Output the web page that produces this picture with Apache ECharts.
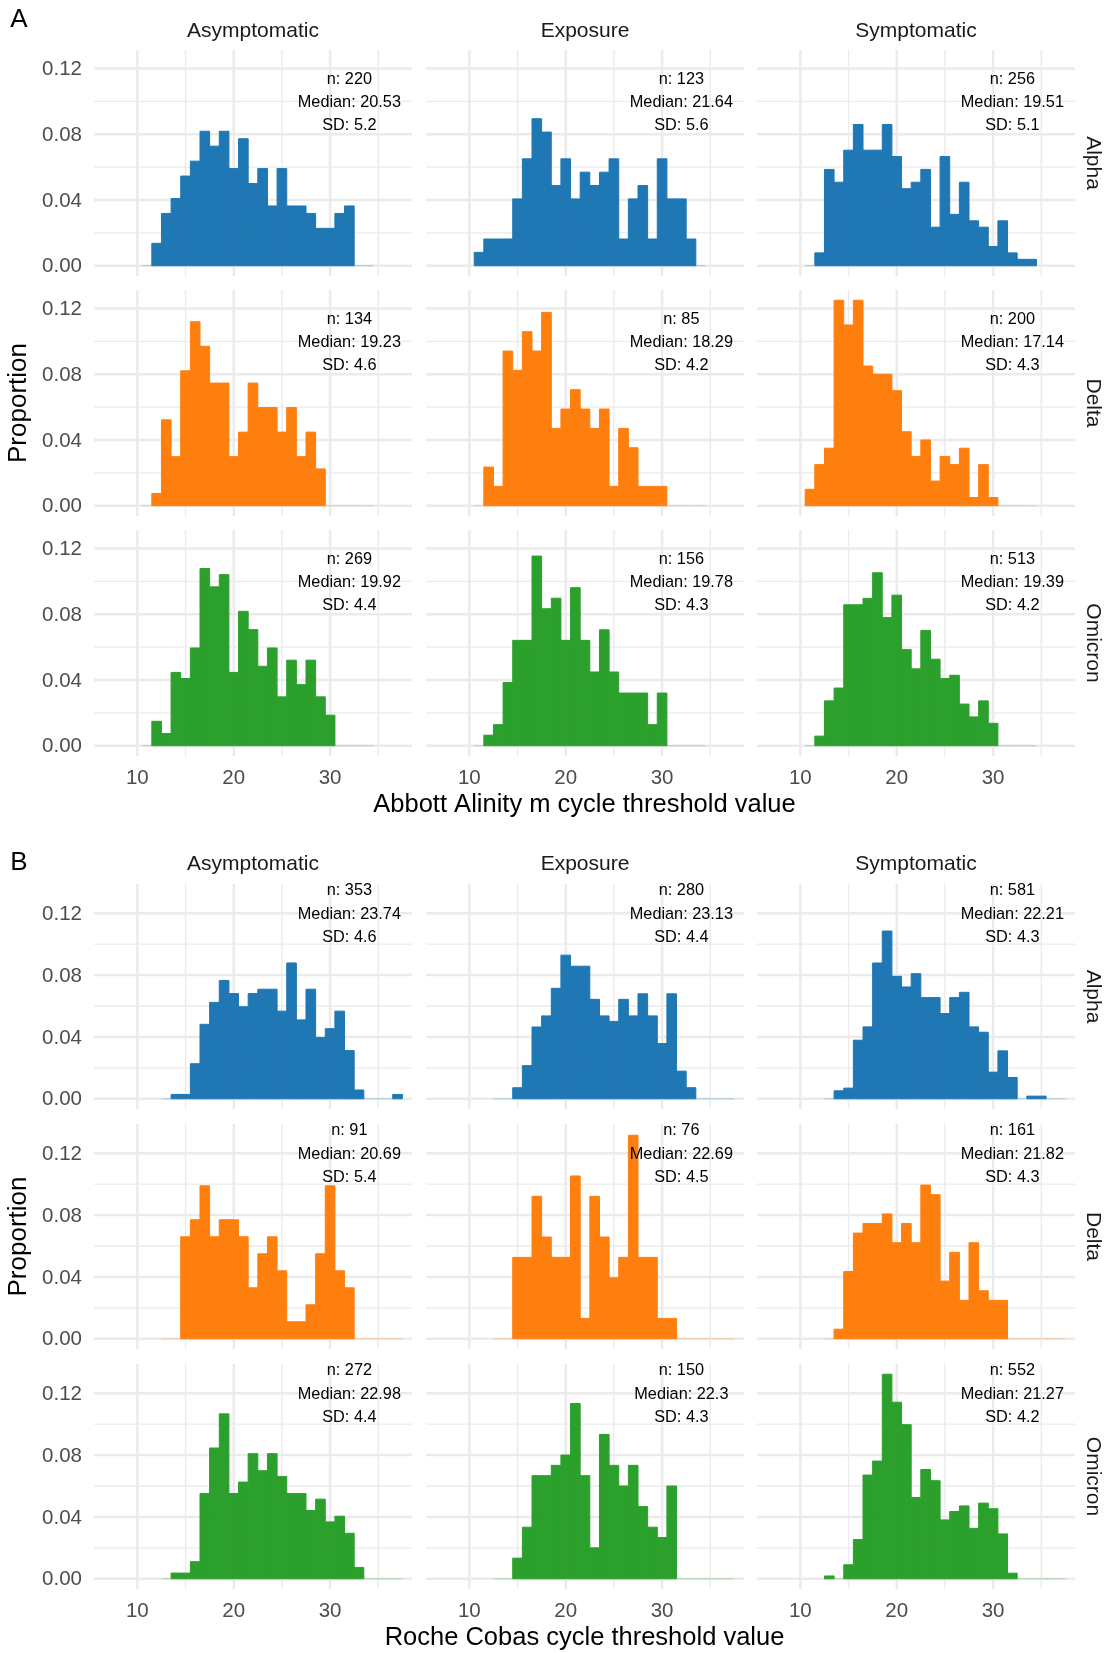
<!DOCTYPE html>
<html><head><meta charset="utf-8">
<script src="https://cdn.jsdelivr.net/npm/echarts@6/dist/echarts.min.js"></script>
<style>html,body{margin:0;padding:0;background:#fff}#c{width:1107px;height:1653px}</style>
</head><body><div id="c"></div>
<script>
// ---------- data ----------
const categories = ['Asymptomatic', 'Exposure', 'Symptomatic'];
const variants = ['Alpha', 'Delta', 'Omicron'];
const variantColors = ['#1F77B4', '#FF7F0E', '#2CA02C'];
const xTitles = ['Abbott Alinity m cycle threshold value', 'Roche Cobas cycle threshold value'];
const panelTags = ['A', 'B'];
const xTickValues = [10, 20, 30];
const xMinorValues = [15, 25, 35];
const yTickValues = [0, 0.04, 0.08, 0.12];
const yTickLabels = ['0.00', '0.04', '0.08', '0.12'];
const yMinorValues = [0.02, 0.06, 0.10];

// bin centres (bin width 1)
const abbottBins = [11,12,13,14,15,16,17,18,19,20,21,22,23,24,25,26,27,28,29,30,31,32,33,34];
const rocheBins = [13,14,15,16,17,18,19,20,21,22,23,24,25,26,27,28,29,30,31,32,33,34,35,36,37];

// counts per bin (Abbott)
const abbottAlphaAsymptomatic = [0,3,7,9,12,14,18,16,18,13,17,11,13,8,13,8,8,7,5,5,7,8,0,0];
const abbottAlphaExposure     = [1,2,2,2,5,8,11,10,6,8,5,7,6,7,8,2,5,6,2,8,5,5,2,0];
const abbottAlphaSymptomatic  = [0,2,15,13,18,22,18,18,22,17,12,13,15,6,17,8,13,7,6,3,7,2,1,1];
const abbottDeltaAsymptomatic = [0,1,7,4,11,15,13,10,10,4,6,10,8,8,6,8,4,6,3,0,0,0,0,0];
const abbottDeltaExposure     = [0,2,1,8,7,9,8,10,4,5,6,5,4,5,1,4,3,1,1,1,0,0,0,0];
const abbottDeltaSymptomatic  = [2,5,7,25,22,25,17,16,16,14,9,6,8,3,6,5,7,1,5,1,0,0,0,0];
const abbottOmicronAsymptomatic = [0,4,2,12,11,16,29,26,28,12,22,19,13,16,8,14,10,14,8,5,0,0,0,0];
const abbottOmicronExposure     = [0,1,2,6,10,10,18,13,14,10,15,10,7,11,7,5,5,5,2,5,0,0,0,0];
const abbottOmicronSymptomatic  = [0,3,14,18,44,44,46,54,40,47,30,24,36,27,21,22,13,9,14,7,0,0,0,0];
const abbottN = [[220,123,256],[134,85,200],[269,156,513]];
const abbottMedian = [['20.53','21.64','19.51'],['19.23','18.29','17.14'],['19.92','19.78','19.39']];
const abbottSD = [['5.2','5.6','5.1'],['4.6','4.2','4.3'],['4.4','4.3','4.2']];

// counts per bin (Roche)
const rocheAlphaAsymptomatic = [0,1,1,8,17,22,27,24,21,24,25,25,20,31,18,25,14,16,20,11,2,0,0,0,1];
const rocheAlphaExposure     = [0,0,2,6,13,15,20,26,24,24,18,15,14,18,15,19,15,10,19,5,2,0,0,0,0];
const rocheAlphaSymptomatic  = [0,3,4,22,27,51,63,46,42,47,38,38,32,38,40,27,25,10,18,8,0,1,1,0,0];
const rocheDeltaAsymptomatic = [0,0,6,7,9,6,7,7,6,3,5,6,4,1,1,2,5,9,4,3,0,0,0,0,0];
const rocheDeltaExposure     = [0,0,4,4,7,5,4,4,8,1,7,5,3,4,10,4,4,1,1,0,0,0,0,0,0];
const rocheDeltaSymptomatic  = [0,1,7,11,12,12,13,10,12,10,16,15,6,9,4,10,5,4,4,0,0,0,0,0,0];
const rocheOmicronAsymptomatic = [0,1,1,3,15,23,29,15,17,22,19,22,18,15,15,12,14,10,11,8,2,0,0,0,0];
const rocheOmicronExposure     = [0,0,2,5,10,10,11,12,17,10,3,14,11,9,11,7,5,4,9,0,0,0,0,0,0];
const rocheOmicronSymptomatic  = [1,0,5,14,37,42,73,63,55,29,39,35,21,24,26,18,27,25,16,2,0,0,0,0,0];
const rocheN = [[353,280,581],[91,76,161],[272,150,552]];
const rocheMedian = [['23.74','23.13','22.21'],['20.69','22.69','21.82'],['22.98','22.3','21.27']];
const rocheSD = [['4.6','4.4','4.3'],['5.4','4.5','4.3'],['4.4','4.3','4.2']];

// ---------- layout ----------
const FONT = '"Liberation Sans", Arial, Helvetica, sans-serif';
const X_MIN = 5.5, X_MAX = 38.5;
const layout = {
  colLeft: [94, 426, 757], panelW: 318,
  rowTop: [[50, 290, 530], [884, 1124, 1364]], panelH: [226, 225],
  tagY: [20, 863], stripY: [31.5, 864.5], xTitleY: [805, 1638], yTitleY: [403, 1236.5],
  annY: [0.1142, 0.1351]
};

const plots = [
  { bins: abbottBins, n: abbottN, med: abbottMedian, sd: abbottSD,
    counts: [[abbottAlphaAsymptomatic, abbottAlphaExposure, abbottAlphaSymptomatic],
             [abbottDeltaAsymptomatic, abbottDeltaExposure, abbottDeltaSymptomatic],
             [abbottOmicronAsymptomatic, abbottOmicronExposure, abbottOmicronSymptomatic]] },
  { bins: rocheBins, n: rocheN, med: rocheMedian, sd: rocheSD,
    counts: [[rocheAlphaAsymptomatic, rocheAlphaExposure, rocheAlphaSymptomatic],
             [rocheDeltaAsymptomatic, rocheDeltaExposure, rocheDeltaSymptomatic],
             [rocheOmicronAsymptomatic, rocheOmicronExposure, rocheOmicronSymptomatic]] }
];

const grids = [], xAxes = [], yAxes = [], series = [], graphics = [];

plots.forEach((plot, p) => {
  let ymax = 0;
  plot.counts.forEach((row, r) => row.forEach((cnt, c) => cnt.forEach(v => { ymax = Math.max(ymax, v / plot.n[r][c]); })));
  const lo = -0.05 * ymax, hi = 1.05 * ymax;

  for (let r = 0; r < 3; r++) {
    for (let c = 0; c < 3; c++) {
      const g = grids.length;
      grids.push({ left: layout.colLeft[c], top: layout.rowTop[p][r], width: layout.panelW, height: layout.panelH[p] });
      xAxes.push({ type: 'value', gridIndex: g, min: X_MIN, max: X_MAX, show: false });
      yAxes.push({ type: 'value', gridIndex: g, min: lo, max: hi, show: false });

      // grid lines
      const gl = [];
      xTickValues.forEach(v => gl.push([v, 0, 1]));
      xMinorValues.forEach(v => gl.push([v, 0, 0]));
      yTickValues.forEach(v => gl.push([v, 1, 1]));
      yMinorValues.forEach(v => gl.push([v, 1, 0]));
      series.push({
        type: 'custom', xAxisIndex: g, yAxisIndex: g, silent: true, z: 1, data: gl,
        renderItem: (params, api) => {
          const v = api.value(0), o = api.value(1), m = api.value(2);
          let a, b;
          if (o === 0) { a = api.coord([v, lo]); b = api.coord([v, hi]); }
          else { a = api.coord([X_MIN, v]); b = api.coord([X_MAX, v]); }
          return { type: 'line', shape: { x1: a[0], y1: a[1], x2: b[0], y2: b[1] },
                   style: { stroke: '#EBEBEB', lineWidth: m ? 2.5 : 1.4 } };
        }
      });

      // histogram bars
      const n = plot.n[r][c];
      const color = variantColors[r];
      const cnt = plot.counts[r][c];
      series.push({
        type: 'custom', xAxisIndex: g, yAxisIndex: g, silent: true, z: 2,
        data: plot.bins.map((b, i) => [b, cnt[i] / n]),
        renderItem: (params, api) => {
          const x = api.value(0), y = api.value(1);
          if (y === 0) {
            const a = api.coord([x - 0.5, 0]), b = api.coord([x + 0.5, 0]);
            return { type: 'line', shape: { x1: a[0], y1: a[1], x2: b[0], y2: b[1] },
                     style: { stroke: color, opacity: 0.3, lineWidth: 1 } };
          }
          const tl = api.coord([x - 0.5, y]), br = api.coord([x + 0.5, 0]);
          return { type: 'rect', shape: { x: tl[0], y: tl[1], width: br[0] - tl[0], height: br[1] - tl[1] },
                   style: { fill: color, stroke: color, lineWidth: 1 } };
        }
      });

      // annotation
      const lines = ['n: ' + n, 'Median: ' + plot.med[r][c], 'SD: ' + plot.sd[r][c]];
      const annY = layout.annY[p];
      series.push({
        type: 'custom', xAxisIndex: g, yAxisIndex: g, silent: true, z: 3, data: [[32, annY]],
        renderItem: (params, api) => {
          const pt = api.coord([api.value(0), api.value(1)]);
          return { type: 'group', children: lines.map((t, i) => ({
            type: 'text', style: { text: t, x: pt[0], y: pt[1] + 1 + i * 23.2, align: 'center', verticalAlign: 'middle',
                                   fontSize: 16.3, fontFamily: FONT, fill: '#000' } })) };
        }
      });

      // x tick labels
      if (r === 2) {
        series.push({
          type: 'custom', xAxisIndex: g, yAxisIndex: g, silent: true, z: 3, data: xTickValues.map(v => [v]),
          renderItem: (params, api) => {
            const pt = api.coord([api.value(0), lo]);
            return { type: 'text', style: { text: String(api.value(0)), x: pt[0], y: pt[1] + 22, align: 'center',
                     verticalAlign: 'middle', fontSize: 20.5, fontFamily: FONT, fill: '#4D4D4D' } };
          }
        });
      }
      // y tick labels
      if (c === 0) {
        series.push({
          type: 'custom', xAxisIndex: g, yAxisIndex: g, silent: true, z: 3, data: yTickValues.map((v, i) => [v, i]),
          renderItem: (params, api) => {
            const pt = api.coord([X_MIN, api.value(0)]);
            return { type: 'text', style: { text: yTickLabels[api.value(1)], x: pt[0] - 12, y: pt[1] + 1, align: 'right',
                     verticalAlign: 'middle', fontSize: 20.5, fontFamily: FONT, fill: '#4D4D4D' } };
          }
        });
      }
      // right strip label
      if (c === 2) {
        graphics.push({ type: 'text', x: 1093, y: layout.rowTop[p][r] + layout.panelH[p] / 2, rotation: -Math.PI / 2,
          style: { text: variants[r], align: 'center', verticalAlign: 'middle', fontSize: 21, fontFamily: FONT, fill: '#1A1A1A' } });
      }
    }
  }
  // top strips
  for (let c = 0; c < 3; c++) {
    graphics.push({ type: 'text', x: layout.colLeft[c] + layout.panelW / 2, y: layout.stripY[p],
      style: { text: categories[c], align: 'center', verticalAlign: 'middle', fontSize: 21, fontFamily: FONT, fill: '#1A1A1A' } });
  }
  graphics.push({ type: 'text', x: 19, y: layout.tagY[p],
    style: { text: panelTags[p], align: 'center', verticalAlign: 'middle', fontSize: 26, fontFamily: FONT, fill: '#000' } });
  graphics.push({ type: 'text', x: 19, y: layout.yTitleY[p], rotation: Math.PI / 2,
    style: { text: 'Proportion', align: 'center', verticalAlign: 'middle', fontSize: 26, fontFamily: FONT, fill: '#000' } });
  graphics.push({ type: 'text', x: layout.colLeft[0] + (layout.colLeft[2] + layout.panelW - layout.colLeft[0]) / 2, y: layout.xTitleY[p],
    style: { text: xTitles[p], align: 'center', verticalAlign: 'middle', fontSize: 25.5, fontFamily: FONT, fill: '#000' } });
});

const chart = echarts.init(document.getElementById('c'), null, { renderer: 'canvas', width: 1107, height: 1653 });
chart.setOption({
  animation: false,
  backgroundColor: '#fff',
  grid: grids, xAxis: xAxes, yAxis: yAxes, series: series,
  graphic: { elements: graphics }
});
</script>
</body></html>
